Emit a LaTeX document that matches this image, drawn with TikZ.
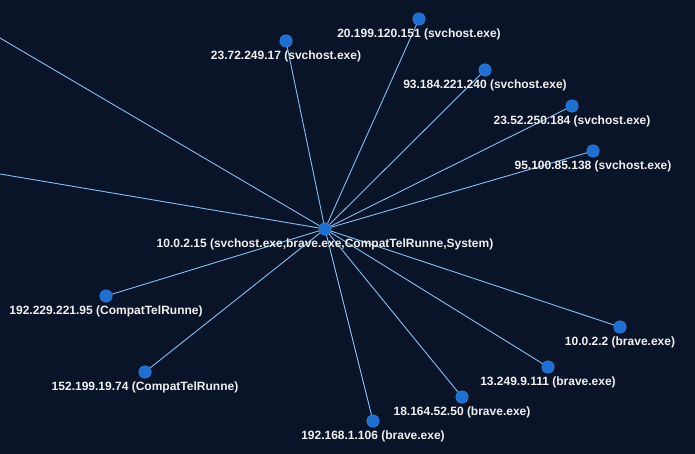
\documentclass[tikz,border=0pt]{standalone}
\usepackage{fontspec}
\setmainfont{Liberation Sans}
\usetikzlibrary{positioning,calc}
\definecolor{bgcol}{HTML}{0A1428}
\definecolor{hostcol}{HTML}{1C70D4}
\definecolor{linkcol}{HTML}{86BEF0}
\definecolor{txtcol}{HTML}{F0F0F0}
\tikzset{
  hostnode/.style={circle, fill=hostcol, draw=hostcol!85!white, line width=0.4pt, minimum size=12.5pt, inner sep=0pt},
  linkln/.style={line width=0.9pt, linkcol},
  iplabel/.style={anchor=base, inner sep=0pt, text=txtcol, font=\bfseries\fontsize{12}{14}\selectfont},
}

\begin{document}
\begin{tikzpicture}[x=1pt, y=-1pt]
    \useasboundingbox (0,0) rectangle (695,454);
    \clip (0,0) rectangle (695,454);
    \fill[bgcol] (0,0) rectangle (695,454);
    % hosts
    \node[hostnode] (src) at (325,229) {};
    \foreach \n/\x/\y in {d1/419/19, d2/286/41, d3/485/70, d4/572/106, d5/593/151,
                          d6/106/296, d7/145/372, d8/373/421, d9/462/397, d10/548/367, d11/620/327}
      \node[hostnode] (\n) at (\x,\y) {};
    % peers outside the frame
    \coordinate (far1) at (-40,14.5);
    \coordinate (far2) at (-40,167.2);
    % links
    \foreach \n in {d1,d2,d3,d4,d5,d6,d7,d8,d9,d10,d11,far1,far2}
      \draw[linkln] (src) -- (\n);
    % labels
    \node[iplabel] (src-lbl) at ([yshift=-18.5pt]src.center) {10.0.2.15 (svchost.exe,brave.exe,CompatTelRunne,System)};
    \foreach \n/\t in {d1/20.199.120.151 (svchost.exe), d2/23.72.249.17 (svchost.exe),
                       d3/93.184.221.240 (svchost.exe), d4/23.52.250.184 (svchost.exe),
                       d5/95.100.85.138 (svchost.exe), d6/192.229.221.95 (CompatTelRunne),
                       d7/152.199.19.74 (CompatTelRunne), d8/192.168.1.106 (brave.exe),
                       d9/18.164.52.50 (brave.exe), d10/13.249.9.111 (brave.exe), d11/10.0.2.2 (brave.exe)}
      \node[iplabel] (\n-lbl) at ([yshift=-18.5pt]\n.center) {\t};
  \end{tikzpicture}
\end{document}
